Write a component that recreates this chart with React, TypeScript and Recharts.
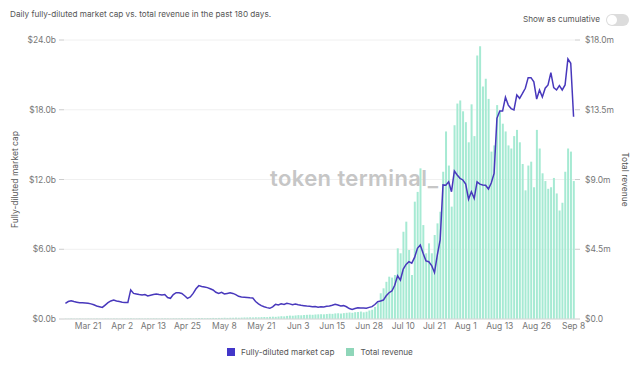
import React from "react";
import { ComposedChart, Bar, Line, XAxis, YAxis, CartesianGrid, Legend } from "recharts";

// fully-diluted market cap, $b
const marketCap = [
  1.35, 1.5, 1.57, 1.5, 1.45, 1.4, 1.4, 1.38, 1.35, 1.3,
  1.22, 1.12, 1.06, 1.0, 1.2, 1.4, 1.55, 1.63, 1.55, 1.5,
  1.45, 1.43, 1.43, 2.5, 2.2, 2.15, 2.1, 2.06, 2.1, 1.98,
  2.05, 2.1, 2.15, 2.1, 2.06, 2.1, 1.85, 1.78, 2.1, 2.26,
  2.25, 2.2, 2.0, 1.78, 1.9, 2.2, 2.6, 2.87, 2.8, 2.75,
  2.7, 2.6, 2.5, 2.3, 2.2, 2.3, 2.15, 2.2, 2.25, 2.2,
  2.1, 1.95, 1.9, 1.88, 1.85, 1.82, 1.8, 1.5, 1.3, 1.15,
  1.05, 0.98, 0.92, 1.05, 1.26, 1.2, 1.3, 1.25, 1.35, 1.3,
  1.22, 1.28, 1.22, 1.18, 1.15, 1.12, 1.1, 1.05, 1.08, 1.02,
  1.06, 1.04, 1.1, 1.12, 1.18, 1.26, 1.2, 1.12, 1.15, 1.05,
  0.9, 0.83, 0.9, 0.97, 0.95, 0.94, 0.92, 1.0, 1.06, 1.25,
  1.49, 1.55, 1.63, 2.0, 2.26, 2.41, 2.9, 3.72, 3.35, 4.3,
  4.7, 4.93, 4.8, 5.3, 6.08, 6.37, 5.65, 5.0, 4.93, 4.6,
  4.0, 5.5, 6.8, 11.53, 11.5, 11.8, 10.95, 12.73, 12.39, 12.1,
  11.96, 11.6, 10.3, 10.95, 10.38, 11.8, 11.6, 11.53, 11.5, 11.18,
  11.7, 12.53, 17.26, 17.9, 17.9, 19.07, 18.4, 18.1, 17.98, 19.27,
  18.98, 19.4, 19.85, 20.76, 20.76, 20.4, 18.92, 19.7, 19.1, 19.85,
  20.13, 21.2, 19.9, 19.7, 20.07, 19.7, 20.13, 22.37, 22.0, 17.4,
];

// total revenue, $m
const revenue = [
  0.02, 0.02, 0.03, 0.02, 0.02, 0.03, 0.02, 0.02, 0.03, 0.02,
  0.02, 0.03, 0.02, 0.02, 0.03, 0.03, 0.02, 0.03, 0.03, 0.02,
  0.03, 0.03, 0.03, 0.04, 0.03, 0.03, 0.04, 0.03, 0.03, 0.04,
  0.03, 0.04, 0.04, 0.03, 0.04, 0.04, 0.04, 0.03, 0.04, 0.04,
  0.04, 0.05, 0.04, 0.05, 0.05, 0.04, 0.05, 0.06, 0.06, 0.05,
  0.06, 0.06, 0.07, 0.06, 0.07, 0.07, 0.08, 0.07, 0.08, 0.08,
  0.09, 0.08, 0.09, 0.1, 0.1, 0.11, 0.1, 0.12, 0.11, 0.12,
  0.13, 0.12, 0.14, 0.15, 0.14, 0.16, 0.18, 0.17, 0.2, 0.22,
  0.21, 0.23, 0.25, 0.24, 0.26, 0.27, 0.28, 0.27, 0.29, 0.3,
  0.31, 0.3, 0.32, 0.34, 0.33, 0.36, 0.37, 0.35, 0.38, 0.4,
  0.42, 0.4, 0.44, 0.45, 0.48, 0.43, 0.47, 0.55, 0.6, 0.78,
  1.05, 1.66, 1.98, 2.4, 2.73, 2.67, 2.84, 4.56, 4.24, 5.63,
  6.28, 4.45, 2.84, 7.57, 8.2, 9.72, 6.06, 4.24, 4.88, 4.24,
  5.42, 6.17, 6.92, 9.5, 12.1, 9.9, 7.25, 12.5, 13.9, 14.1,
  13.4, 12.7, 11.4, 13.85, 11.8, 17.0, 17.6, 15.0, 15.5, 14.2,
  10.8, 11.2, 13.8, 13.4, 12.6, 12.1, 11.2, 11.0, 11.8, 12.2,
  11.4, 10.0, 8.3, 9.9, 10.15, 8.5, 12.2, 11.0, 9.4, 8.9,
  8.4, 8.5, 9.1, 8.1, 7.0, 7.5, 9.5, 11.0, 10.8, 8.9,
];

const monthNames = ["Jan", "Feb", "Mar", "Apr", "May", "Jun", "Jul", "Aug", "Sep", "Oct", "Nov", "Dec"];
const monthDays = [31, 28, 31, 30, 31, 30, 31, 31, 30, 31, 30, 31];

// day labels, Mar 13 .. Sep 8
const dates: string[] = [];
{
  let m = 2;
  let d = 13;
  for (let i = 0; i < marketCap.length; i++) {
    dates.push(`${monthNames[m]} ${d}`);
    d++;
    if (d > monthDays[m]) {
      d = 1;
      m++;
    }
  }
}

const dateTicks = [
  "Mar 21", "Apr 2", "Apr 13", "Apr 25", "May 8", "May 21", "Jun 3", "Jun 15",
  "Jun 28", "Jul 10", "Jul 21", "Aug 1", "Aug 13", "Aug 26", "Sep 8",
];
const capTicks = [0, 6, 12, 18, 24];
const revTicks = [0, 4.5, 9, 13.5, 18];

const data = dates.map((date, i) => ({ date, cap: marketCap[i], rev: revenue[i] }));

const LINE = "#4838bc";
const BAR = "#a6ead3";
const FONT = "Inter, 'Noto Sans', sans-serif";
const tickStyle = { fontSize: 8.5, fill: "#777", fontFamily: FONT };

function LegendContent() {
  const item = (color: string, label: string, gap: number) => (
    <div style={{ display: "flex", alignItems: "center", marginRight: gap }}>
      <div style={{ width: 8, height: 8, background: color, marginRight: 6 }} />
      <span>{label}</span>
    </div>
  );
  return (
    <div
      style={{
        height: 26,
        display: "flex",
        justifyContent: "center",
        alignItems: "center",
        fontSize: 8.2,
        color: "#555",
        fontFamily: FONT,
      }}
    >
      {item("#4236c9", "Fully-diluted market cap", 12)}
      {item("#8fd6b9", "Total revenue", 0)}
    </div>
  );
}

export default function App() {
  return (
    <div
      style={{
        position: "absolute",
        left: 0,
        top: 0,
        width: 640,
        height: 365,
        background: "#fff",
        fontFamily: FONT,
      }}
    >
      <div style={{ position: "absolute", left: 10, top: 9, fontSize: 8.2, color: "#555" }}>
        Daily fully-diluted market cap vs. total revenue in the past 180 days.
      </div>
      <div
        style={{
          position: "absolute",
          right: 40,
          top: 14,
          fontSize: 8.2,
          color: "#555",
        }}
      >
        Show as cumulative
      </div>
      <div
        style={{
          position: "absolute",
          left: 606,
          top: 14,
          width: 23,
          height: 12,
          borderRadius: 6,
          background: "#dcdcdc",
        }}
      >
        <div
          style={{
            position: "absolute",
            left: 1,
            top: 1,
            width: 10,
            height: 10,
            borderRadius: 5,
            background: "#fff",
          }}
        />
      </div>

      <ComposedChart
        width={640}
        height={365}
        data={data}
        margin={{ top: 40, right: 0, bottom: 0, left: 0 }}
        barCategoryGap="22%"
      >
        <CartesianGrid vertical={false} stroke="#f0f0f0" yAxisId="left" />
        <XAxis
          dataKey="date"
          ticks={dateTicks}
          interval={0}
          height={20}
          tickLine={false}
          tickSize={3}
          tickMargin={1}
          axisLine={{ stroke: "#d8d8d8" }}
          tick={tickStyle}
        />
        <YAxis
          yAxisId="left"
          width={64}
          domain={[0, 24]}
          ticks={capTicks}
          tickFormatter={(v: number) => `$${v.toFixed(1)}b`}
          axisLine={false}
          tickLine={{ stroke: "#ccc" }}
          tickSize={5}
          tickMargin={3}
          tick={tickStyle}
          label={{
            value: "Fully-diluted market cap",
            angle: -90,
            position: "insideLeft",
            offset: 15,
            style: { textAnchor: "middle", fontSize: 8.5, fill: "#555", fontFamily: FONT },
          }}
        />
        <YAxis
          yAxisId="right"
          orientation="right"
          width={65}
          domain={[0, 18]}
          ticks={revTicks}
          tickFormatter={(v: number) => (v === 0 ? "$0.0" : `$${v.toFixed(1)}m`)}
          axisLine={false}
          tickLine={{ stroke: "#ccc" }}
          tickSize={5}
          tickMargin={5}
          tick={tickStyle}
          label={{
            value: "Total revenue",
            angle: 90,
            position: "insideRight",
            offset: 15,
            style: { textAnchor: "middle", fontSize: 8.5, fill: "#555", fontFamily: FONT },
          }}
        />
        <Legend verticalAlign="bottom" content={() => <LegendContent />} />
        <Bar yAxisId="right" dataKey="rev" name="Total revenue" fill={BAR} isAnimationActive={false} />
        <Line
          yAxisId="left"
          type="linear"
          dataKey="cap"
          name="Fully-diluted market cap"
          stroke={LINE}
          strokeWidth={1.5}
          dot={false}
          activeDot={false}
          isAnimationActive={false}
        />
      </ComposedChart>

      <div
        style={{
          position: "absolute",
          left: 270,
          top: 165,
          fontSize: 22,
          fontWeight: 600,
          color: "#c6c6c6",
          pointerEvents: "none",
          letterSpacing: 0.4,
        }}
      >
        token terminal_
      </div>
    </div>
  );
}
